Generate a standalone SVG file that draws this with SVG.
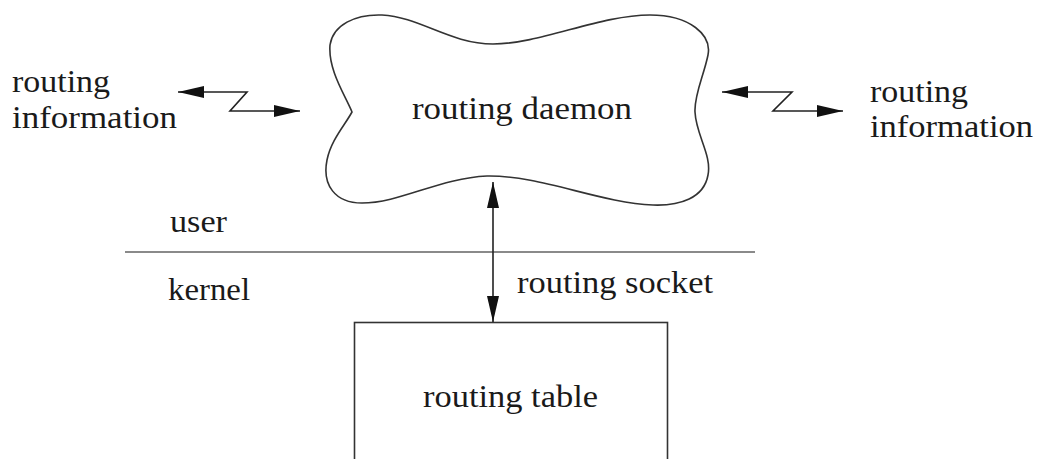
<svg xmlns="http://www.w3.org/2000/svg" width="1037" height="459" viewBox="0 0 1037 459">
<style>
  text { font-family: "Liberation Serif", "Times New Roman", serif; font-size: 32px; fill: #1a1a1a; }
  .shape { fill: #fff; stroke: #333; stroke-width: 1.6; }
  .conn { fill: none; stroke: #222; stroke-width: 1.6; marker-start: url(#ah); marker-end: url(#ah); }
  .divider { stroke: #8a8a8a; stroke-width: 2; }
</style>
<defs>
  <marker id="ah" markerUnits="userSpaceOnUse" markerWidth="27" markerHeight="12" refX="26" refY="6" orient="auto-start-reverse">
    <path d="M0,0 L26,6 L0,12 Z" fill="#111"/>
  </marker>
</defs>
<rect width="1037" height="459" fill="#fff"/>

<g id="divider">
  <line class="divider" x1="125" y1="252" x2="755" y2="252"/>
  <text x="170" y="232" textLength="57" lengthAdjust="spacingAndGlyphs">user</text>
  <text x="168" y="300" textLength="82" lengthAdjust="spacingAndGlyphs">kernel</text>
</g>

<g id="routing-daemon">
  <path class="shape" d="M 487 176 C 440 178, 400 203, 362 203 C 335 203, 322 185, 327 160 C 331 140, 345 125, 352 112 C 345 95, 328 70, 330 45 C 333 25, 355 14, 382 15 C 420 17, 450 44, 493 44 C 540 44, 600 15, 650 15 C 690 15, 712 35, 708 55 C 704 75, 694 95, 695 112 C 696 135, 712 155, 708 175 C 704 198, 680 206, 653 205 C 600 203, 540 175, 487 176 Z"/>
  <text x="412" y="119" textLength="220" lengthAdjust="spacingAndGlyphs">routing daemon</text>
</g>

<g id="routing-table">
  <rect class="shape" x="354.5" y="322.5" width="313" height="160"/>
  <text x="423" y="407" textLength="175" lengthAdjust="spacingAndGlyphs">routing table</text>
</g>

<g id="info-left">
  <text x="12" y="92" textLength="98" lengthAdjust="spacingAndGlyphs">routing</text>
  <text x="12" y="128" textLength="165" lengthAdjust="spacingAndGlyphs">information</text>
</g>

<g id="info-right">
  <text x="870" y="102" textLength="98" lengthAdjust="spacingAndGlyphs">routing</text>
  <text x="870" y="137" textLength="163" lengthAdjust="spacingAndGlyphs">information</text>
</g>

<g id="connectors">
  <path class="conn" d="M 178 92 L 247 92 L 230 111 L 300 111"/>
  <path class="conn" d="M 722 92 L 792 92 L 773 111 L 843 111"/>
  <path class="conn" d="M 493 182 L 493 322"/>
  <text x="517" y="293" textLength="196" lengthAdjust="spacingAndGlyphs">routing socket</text>
</g>
</svg>
